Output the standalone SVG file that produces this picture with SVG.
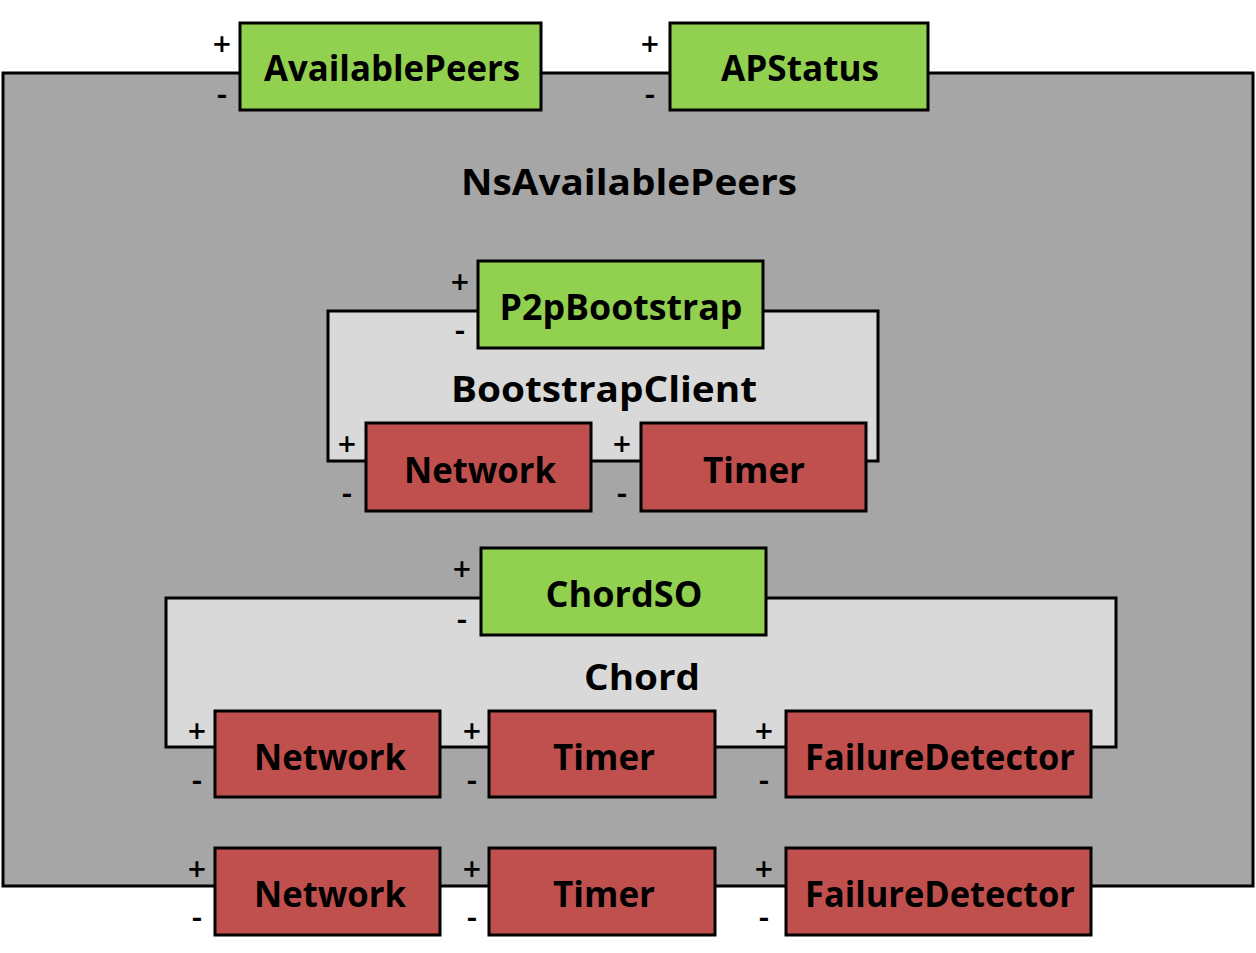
<svg xmlns="http://www.w3.org/2000/svg" width="1256" height="953" viewBox="0 0 1256 953">
<style>
.outer{fill:#a6a6a6;stroke:#000;stroke-width:3}
.inner{fill:#d9d9d9;stroke:#000;stroke-width:3}
.pos{fill:#92d050;stroke:#000;stroke-width:3}
.neg{fill:#c0504d;stroke:#000;stroke-width:3}
.lbl{font-family:"Open Sans","Noto Sans",sans-serif;font-weight:bold;font-size:35px;fill:#000;text-anchor:middle}
.sign{font-family:"Open Sans","Noto Sans",sans-serif;font-weight:600;font-size:32px;fill:#000;text-anchor:middle}
</style>
<rect width="1256" height="953" fill="#fff"/>
<g id="NsAvailablePeers">
<rect class="outer" x="3" y="73" width="1250" height="813"/>
<text class="lbl" x="629" y="195" textLength="336" lengthAdjust="spacingAndGlyphs">NsAvailablePeers</text>
</g>
<g id="AvailablePeers">
<rect class="pos" x="240" y="23" width="301" height="87"/>
<text class="lbl" x="392" y="81" textLength="256" lengthAdjust="spacingAndGlyphs">AvailablePeers</text>
<text class="sign" x="222" y="56">+</text><text class="sign" x="222" y="105">-</text>
</g>
<g id="APStatus">
<rect class="pos" x="670" y="23" width="258" height="87"/>
<text class="lbl" x="800" y="81" textLength="158" lengthAdjust="spacingAndGlyphs">APStatus</text>
<text class="sign" x="650" y="56">+</text><text class="sign" x="650" y="105">-</text>
</g>
<g id="BootstrapClient">
<rect class="inner" x="328" y="311" width="550" height="150"/>
<text class="lbl" x="604" y="402" textLength="306" lengthAdjust="spacingAndGlyphs">BootstrapClient</text>
</g>
<g id="P2pBootstrap">
<rect class="pos" x="478" y="261" width="285" height="87"/>
<text class="lbl" x="621" y="320" textLength="243" lengthAdjust="spacingAndGlyphs">P2pBootstrap</text>
<text class="sign" x="460" y="294">+</text><text class="sign" x="460" y="341">-</text>
</g>
<g id="BC_Network">
<rect class="neg" x="366" y="423" width="225" height="88"/>
<text class="lbl" x="480" y="483" textLength="152" lengthAdjust="spacingAndGlyphs">Network</text>
<text class="sign" x="347" y="456">+</text><text class="sign" x="347" y="504">-</text>
</g>
<g id="BC_Timer">
<rect class="neg" x="641" y="423" width="225" height="88"/>
<text class="lbl" x="754" y="483" textLength="102" lengthAdjust="spacingAndGlyphs">Timer</text>
<text class="sign" x="622" y="456">+</text><text class="sign" x="622" y="504">-</text>
</g>
<g id="Chord">
<rect class="inner" x="166" y="598" width="950" height="149"/>
<text class="lbl" x="642" y="690" textLength="116" lengthAdjust="spacingAndGlyphs">Chord</text>
</g>
<g id="ChordSO">
<rect class="pos" x="481" y="548" width="285" height="87"/>
<text class="lbl" x="624" y="607" textLength="157" lengthAdjust="spacingAndGlyphs">ChordSO</text>
<text class="sign" x="462" y="581">+</text><text class="sign" x="462" y="630">-</text>
</g>
<g id="Chord_Network">
<rect class="neg" x="215" y="711" width="225" height="86"/>
<text class="lbl" x="330" y="770" textLength="152" lengthAdjust="spacingAndGlyphs">Network</text>
<text class="sign" x="197" y="743">+</text><text class="sign" x="197" y="791">-</text>
</g>
<g id="Chord_Timer">
<rect class="neg" x="489" y="711" width="226" height="86"/>
<text class="lbl" x="604" y="770" textLength="102" lengthAdjust="spacingAndGlyphs">Timer</text>
<text class="sign" x="472" y="743">+</text><text class="sign" x="472" y="791">-</text>
</g>
<g id="Chord_FailureDetector">
<rect class="neg" x="786" y="711" width="305" height="86"/>
<text class="lbl" x="940" y="770" textLength="270" lengthAdjust="spacingAndGlyphs">FailureDetector</text>
<text class="sign" x="764" y="743">+</text><text class="sign" x="764" y="791">-</text>
</g>
<g id="Network">
<rect class="neg" x="215" y="848" width="225" height="87"/>
<text class="lbl" x="330" y="907" textLength="152" lengthAdjust="spacingAndGlyphs">Network</text>
<text class="sign" x="197" y="881">+</text><text class="sign" x="197" y="928">-</text>
</g>
<g id="Timer">
<rect class="neg" x="489" y="848" width="226" height="87"/>
<text class="lbl" x="604" y="907" textLength="102" lengthAdjust="spacingAndGlyphs">Timer</text>
<text class="sign" x="472" y="881">+</text><text class="sign" x="472" y="928">-</text>
</g>
<g id="FailureDetector">
<rect class="neg" x="786" y="848" width="305" height="87"/>
<text class="lbl" x="940" y="907" textLength="270" lengthAdjust="spacingAndGlyphs">FailureDetector</text>
<text class="sign" x="764" y="881">+</text><text class="sign" x="764" y="928">-</text>
</g>
<g id="connectors"></g>
</svg>
